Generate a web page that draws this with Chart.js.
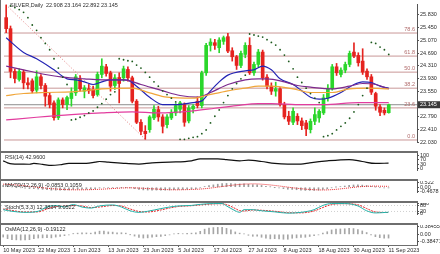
<!DOCTYPE html>
<html>
<head>
<meta charset="utf-8">
<script src="https://cdn.jsdelivr.net/npm/chart.js@4"></script>
<style>
html, body { margin: 0; padding: 0; background: #fff; }
#wrap { position: relative; width: 440px; height: 254px; overflow: hidden; background: #fff; }
#wrap canvas { position: absolute; left: 0; }
.sep { position: absolute; left: 0; width: 418px; background: #6e6e6e; }
</style>
</head>
<body>
<div id="wrap">
  <canvas id="c-main" width="440" height="151" style="top:0"></canvas>
  <canvas id="c-rsi" width="440" height="26" style="top:153px"></canvas>
  <canvas id="c-macd" width="440" height="20" style="top:181px"></canvas>
  <canvas id="c-stoch" width="440" height="20" style="top:203px"></canvas>
  <canvas id="c-osma" width="440" height="29" style="top:225px"></canvas>
  <div class="sep" style="top:151px;height:2px"></div>
  <div class="sep" style="top:179px;height:2px"></div>
  <div class="sep" style="top:201px;height:2px"></div>
  <div class="sep" style="top:223px;height:2px"></div>
  <div class="sep" style="top:245px;height:1px"></div>
  <div class="sep" style="top:0;height:246px;width:1px"></div>
</div>
<script>
// ---- data ----
const titleText = 'SILVER,Daily  22.908 23.164 22.892 23.145';

const dateTickBars = [0, 8, 16, 24, 32, 40, 48, 56, 64, 72, 80, 88];
const dateTickLabels = ['10 May 2023', '22 May 2023', '1 Jun 2023', '13 Jun 2023', '23 Jun 2023', '5 Jul 2023',
  '17 Jul 2023', '27 Jul 2023', '8 Aug 2023', '18 Aug 2023', '30 Aug 2023', '11 Sep 2023'];

const priceTicks = [25.83, 25.45, 25.07, 24.69, 24.31, 23.93, 23.55, 22.79, 22.41, 22.03];
const priceTickLabels = ['25.830', '25.450', '25.070', '24.690', '24.310', '23.930', '23.550', '22.790', '22.410', '22.030'];
const lastPrice = 23.145;
const lastPriceLabel = '23.145';

const ohlcOpen = [25.75,25.42,24.14,23.90,24.12,23.80,23.86,23.58,23.98,23.72,
  23.42,23.20,22.76,23.29,23.15,23.33,23.50,23.90,23.55,23.62,
  23.60,23.45,24.05,24.28,24.10,23.72,23.96,23.95,24.20,23.95,
  23.25,22.62,22.35,22.40,22.75,23.00,22.78,22.55,22.75,22.90,
  23.01,23.15,22.66,23.02,23.25,23.12,24.10,24.92,25.00,24.85,
  25.04,25.18,24.76,24.58,24.32,24.65,24.92,24.10,24.35,24.72,
  23.97,23.70,23.55,23.62,23.15,22.80,22.62,22.80,22.66,22.60,
  22.40,22.65,22.75,22.90,23.35,23.62,24.28,24.05,24.18,24.35,
  24.72,24.62,24.45,24.15,23.98,23.48,23.08,22.98,22.908];
const ohlcHigh = [26.13,25.50,24.22,24.22,24.18,23.95,23.92,24.16,24.05,23.78,
  23.50,23.26,23.35,23.35,23.40,23.65,24.05,24.02,23.72,23.75,
  23.70,24.12,24.52,24.35,24.15,24.05,24.10,24.30,24.28,24.00,
  23.30,22.70,22.52,22.82,23.12,23.10,22.85,22.85,23.00,23.18,
  23.25,23.20,23.12,23.15,23.38,24.15,24.98,25.12,25.10,25.15,
  25.20,25.28,24.85,24.62,24.75,25.00,25.15,24.42,24.80,24.78,
  24.05,23.80,23.82,23.66,23.22,22.95,23.05,22.88,22.75,22.68,
  22.72,23.05,23.00,23.45,23.75,24.35,24.38,24.25,24.42,24.75,
  25.00,24.70,24.82,24.22,24.05,23.52,23.15,23.05,23.164];
const ohlcLow = [25.30,23.95,23.80,23.85,23.62,23.62,23.50,23.50,23.62,23.10,
  23.05,22.68,22.70,23.05,23.00,23.10,23.42,23.55,23.35,23.48,
  23.35,23.40,23.95,24.00,23.55,23.60,23.20,23.85,23.85,23.20,
  22.58,22.25,22.11,22.32,22.70,22.65,22.30,22.45,22.70,22.82,
  22.90,22.50,22.60,22.90,23.05,23.05,24.02,24.75,24.80,24.70,
  24.95,24.70,24.45,24.20,24.25,24.55,24.05,24.02,24.28,23.88,
  23.62,23.45,23.40,23.10,22.72,22.55,22.55,22.55,22.40,22.22,
  22.30,22.55,22.62,22.85,23.25,23.58,24.02,23.98,24.10,24.28,
  24.55,24.30,24.05,23.90,23.45,22.98,22.82,22.84,22.892];
const ohlcClose = [25.42,24.14,23.93,24.14,23.80,23.74,23.56,23.98,23.72,23.40,
  23.15,22.76,23.29,23.15,23.36,23.50,23.98,23.62,23.65,23.56,
  23.42,24.05,24.30,24.08,23.70,23.95,23.78,24.22,23.95,23.25,
  22.62,22.35,22.28,22.78,23.01,22.78,22.50,22.78,22.92,23.12,
  23.20,22.62,23.05,23.10,23.12,24.10,24.92,25.02,24.92,25.08,
  25.15,24.75,24.58,24.32,24.68,24.92,24.10,24.35,24.72,23.95,
  23.70,23.55,23.62,23.15,22.78,22.65,22.95,22.66,22.52,22.42,
  22.65,22.85,22.95,23.35,23.62,24.28,24.10,24.18,24.35,24.68,
  24.60,24.40,24.12,23.98,23.52,23.10,22.92,22.90,23.145];

// parabolic SAR dots (bar 0 has none)
const sarBars = [1,2,3,4,5,6,7,8,9,10,11,12,13,14,15,16,17,18,19,20,21,22,23,24,25,26,27,28,29,30,
  31,32,33,34,35,36,37,38,39,40,41,42,43,44,45,46,47,48,49,50,51,52,53,54,55,56,57,58,59,60,
  61,62,63,64,65,66,67,68,69,70,71,72,73,74,75,76,77,78,79,80,81,82,83,84,85,86,87,88];
const sarVal = [26.10,26.05,25.99,25.91,25.75,25.53,25.37,25.15,24.98,24.79,24.52,24.24,23.97,23.75,
  22.69,22.71,22.77,22.82,22.90,22.96,23.07,23.18,23.31,23.45,23.53,
  24.52,24.49,24.46,24.44,24.33,24.24,24.11,23.97,23.83,23.70,23.56,23.45,23.34,23.23,
  22.11,22.11,22.14,22.17,22.19,22.28,22.39,22.60,22.80,22.99,23.21,23.42,23.62,23.78,23.92,24.03,
  25.26,25.23,25.20,25.17,25.09,25.01,24.93,24.79,24.63,24.44,24.22,23.97,23.81,23.64,23.48,23.34,23.21,
  22.19,22.22,22.28,22.39,22.50,22.60,22.74,22.93,23.15,23.42,23.64,
  25.01,24.98,24.87,24.79,24.65];

// moving averages, sampled along the curves
const blueAt = [0,4,7,11,14,16,18,20,22,24,27,28,30,33,36,39,43,45,47,49,51,55,57,59,61,63,66,68,70,72,74,77,80,82,84,86,88];
const blueVal = [25.15,24.71,24.52,24.19,23.92,23.89,23.83,23.75,23.83,23.89,23.89,23.88,23.70,23.37,23.15,23.15,23.21,23.26,23.56,23.83,
  24.03,24.16,24.19,24.30,24.19,23.92,23.75,23.56,23.37,23.31,23.34,23.51,23.75,23.83,23.81,23.70,23.64];
const purpleAt = [0,4,9,13,18,22,27,31,36,40,44,47,51,55,58,60,64,67,70,75,79,82,85,88];
const purpleVal = [24.30,24.19,24.05,23.97,23.92,23.89,23.89,23.75,23.56,23.42,23.37,23.51,23.75,23.89,23.92,23.92,23.83,23.72,23.67,23.62,
  23.70,23.78,23.75,23.62];
const orangeAt = [0,4,9,15,18,22,29,33,37,43,46,51,55,58,61,66,70,75,79,83,88];
const orangeVal = [23.42,23.48,23.51,23.53,23.56,23.62,23.64,23.50,23.37,23.34,23.42,23.56,23.64,23.70,23.70,23.62,23.51,23.51,23.62,23.64,23.62];
const pinkAt = [0,7,15,22,29,35,43,48,53,58,61,68,73,81,88];
const pinkVal = [22.69,22.77,22.85,22.90,22.93,22.90,22.96,23.04,23.12,23.18,23.18,23.15,23.15,23.21,23.21];

// fibonacci retracement
const fibLevels = ['0.0', '23.6', '38.2', '50.0', '61.8', '78.6'];
const fibPrices = [22.09, 23.05, 23.64, 24.12, 24.60, 25.29];
const fibAnchorBars = [0, 32];
const fibAnchorPrices = [26.13, 22.11];

// RSI(14)
const rsiLabel = 'RSI(14) 42.9600';
const rsiAt = [0,1,2,4,6,7,9,11,13,15,18,21,22,24,28,31,34,38,43,45,49,51,54,56,59,62,65,68,70,74,79,82,85,88];
const rsiVal = [60,45,37,35,34,40,33,25,30,40,40,50,55,50,40,35,45,50,60,75,75,70,60,65,55,40,35,35,45,60,70,55,40,43];
const rsiTicks = [100, 70, 30, 0];
const rsiTickLabels = ['100', '70', '30', '0'];

// MACD(12,26,9)
const macdLabel = 'MACD(12,26,9) -0.0853 0.1059';
const macdMain = [0.22,0.12,0.04,-0.01,-0.07,-0.12,-0.17,-0.18,-0.21,-0.25,
  -0.29,-0.35,-0.35,-0.36,-0.35,-0.33,-0.27,-0.25,-0.24,-0.23,
  -0.23,-0.16,-0.09,-0.06,-0.07,-0.05,-0.05,-0.02,-0.02,-0.08,
  -0.17,-0.26,-0.32,-0.34,-0.34,-0.34,-0.36,-0.35,-0.33,-0.29,
  -0.26,-0.27,-0.24,-0.21,-0.18,-0.07,0.08,0.20,0.28,0.36,
  0.43,0.45,0.44,0.40,0.39,0.40,0.34,0.30,0.29,0.21,
  0.12,0.04,-0.01,-0.08,-0.17,-0.24,-0.26,-0.30,-0.34,-0.38,
  -0.38,-0.37,-0.35,-0.27,-0.19,-0.07,0.01,0.07,0.14,0.22,
  0.27,0.28,0.25,0.20,0.11,0.01,-0.05,-0.09,-0.0853];
const macdSignal = [0.36,0.34,0.31,0.27,0.22,0.16,0.10,0.04,-0.02,-0.07,
  -0.12,-0.17,-0.21,-0.25,-0.28,-0.30,-0.31,-0.31,-0.31,-0.30,
  -0.29,-0.27,-0.25,-0.22,-0.19,-0.16,-0.13,-0.10,-0.08,-0.07,
  -0.08,-0.10,-0.13,-0.16,-0.19,-0.22,-0.25,-0.28,-0.30,-0.31,
  -0.31,-0.30,-0.29,-0.27,-0.25,-0.22,-0.18,-0.12,-0.06,0.01,
  0.08,0.15,0.22,0.28,0.33,0.37,0.39,0.40,0.39,0.36,
  0.32,0.27,0.21,0.15,0.08,0.01,-0.06,-0.12,-0.18,-0.23,
  -0.27,-0.30,-0.32,-0.33,-0.32,-0.29,-0.25,-0.20,-0.14,-0.08,
  -0.02,0.04,0.08,0.11,0.13,0.13,0.12,0.11,0.1059];
const macdTicks = [0.522, 0, -0.4678];
const macdTickLabels = ['0.522', '0.00', '-0.4678'];

// Stochastic(5,3,3)
const stochLabel = 'Stoch(5,3,3) 12.3834 9.0522';
const stochAt = [0,2,5,8,10,12,14,16,18,20,22,25,27,29,31,33,36,38,40,43,45,48,50,51,53,54,55,57,59,62,65,68,71,73,75,78,81,83,85,88];
const stochMain = [38,22,11,22,65,80,65,90,65,54,76,86,65,27,11,22,49,65,76,81,92,100,100,76,27,11,38,38,27,16,3,11,38,81,100,100,76,27,5,12.38];
const stochSignal = [45,30,15,16,45,70,72,80,75,60,65,80,75,45,20,15,35,55,70,78,86,96,98,90,50,28,25,35,32,22,8,6,25,60,90,98,88,50,15,9.05];
const stochTicks = [100, 80, 20, 0];
const stochTickLabels = ['100', '80', '20', '0'];
const stochLevels = [80, 20];

// OsMA(12,26,9)
const osmaLabel = 'OsMA(12,26,9) -0.19122';
const osmaVal = [-0.14,-0.22,-0.27,-0.28,-0.29,-0.28,-0.27,-0.22,-0.19,-0.18,
  -0.17,-0.18,-0.14,-0.11,-0.07,-0.03,0.04,0.06,0.07,0.07,
  0.06,0.11,0.16,0.16,0.12,0.11,0.08,0.08,0.06,-0.01,
  -0.09,-0.16,-0.19,-0.18,-0.15,-0.12,-0.11,-0.07,-0.03,0.02,
  0.05,0.03,0.05,0.06,0.07,0.15,0.26,0.32,0.34,0.35,
  0.35,0.30,0.22,0.12,0.06,0.03,-0.05,-0.10,-0.10,-0.15,
  -0.20,-0.23,-0.22,-0.23,-0.25,-0.25,-0.20,-0.18,-0.16,-0.15,
  -0.11,-0.07,-0.03,0.06,0.13,0.22,0.26,0.27,0.28,0.30,
  0.29,0.24,0.17,0.09,-0.02,-0.12,-0.17,-0.20,-0.19122];
const osmaTicks = [0.38455, 0, -0.38471];
const osmaTickLabels = ['0.38455', '0.00', '-0.38471'];

// ---- styling / helpers ----
const FONT = "'Liberation Sans', Arial, sans-serif";
const TXT = '#2b2b2b';
const X_MIN = -0.5, X_MAX = 94.5;
const UP = '#2bd62b', DOWN = '#e5231f';

function xAxis(show) {
  return {
    type: 'linear', min: X_MIN, max: X_MAX, offset: false, display: show,
    afterBuildTicks: s => { s.ticks = dateTickBars.map(v => ({ value: v })); },
    afterFit: s => { s.height = 9; s.paddingLeft = 0; s.paddingRight = 0; },
    ticks: {
      autoSkip: false, maxRotation: 0, minRotation: 0, align: 'start', padding: 0,
      color: TXT, font: { family: FONT, size: 5.5 },
      callback: v => dateTickLabels[dateTickBars.indexOf(v)] ?? ''
    },
    grid: { offset: false, drawOnChartArea: false, drawTicks: true, tickLength: 2, color: '#555' },
    border: { display: false }
  };
}

function yAxis(min, max, vals, labels) {
  return {
    position: 'right', min, max,
    afterBuildTicks: s => { s.ticks = vals.map(v => ({ value: v })); },
    afterFit: s => { s.width = 23; s.paddingTop = 0; s.paddingBottom = 0; },
    ticks: {
      autoSkip: false, padding: 1, color: TXT, font: { family: FONT, size: 5.5 },
      callback: v => labels[vals.indexOf(v)] ?? ''
    },
    grid: { drawOnChartArea: false, tickLength: 2, color: '#555' },
    border: { color: '#555', width: 1 }
  };
}

function options(scales) {
  return {
    responsive: false, animation: false, events: [],
    layout: { padding: { left: 1, right: 0, top: 0, bottom: 0 } },
    plugins: { legend: { display: false }, tooltip: { enabled: false } },
    scales
  };
}

function curve(at, vals, color, width, extra) {
  return Object.assign({
    type: 'line', data: at.map((x, k) => ({ x, y: vals[k] })),
    borderColor: color, borderWidth: width, pointRadius: 0,
    cubicInterpolationMode: 'monotone', order: 1
  }, extra || {});
}

function hline(y, color, dash, order) {
  return {
    type: 'line', data: [{ x: X_MIN, y }, { x: X_MAX, y }],
    borderColor: color, borderWidth: 1, borderDash: dash || [], pointRadius: 0, order
  };
}

function paneLabel(text) {
  return {
    id: 'paneLabel',
    afterDraw(chart) {
      const c = chart.ctx;
      c.save();
      c.font = `5.5px ${FONT}`;
      c.fillStyle = TXT;
      c.textBaseline = 'middle';
      c.fillText(text, 5, 4);
      c.restore();
    }
  };
}

const candleColor = i => (ohlcClose[i] >= ohlcOpen[i] ? UP : DOWN);

// ---- main price pane ----
const mainText = {
  id: 'mainText',
  afterDraw(chart) {
    const { ctx, chartArea, scales } = chart;
    ctx.save();
    ctx.font = `5.5px ${FONT}`;
    ctx.fillStyle = TXT;
    ctx.textBaseline = 'middle';
    ctx.fillText(titleText, 10, 5);
    ctx.fillStyle = '#b06a6a';
    ctx.textAlign = 'right';
    ctx.textBaseline = 'bottom';
    fibLevels.forEach((lv, k) => ctx.fillText(lv, chartArea.right - 2, scales.y.getPixelForValue(fibPrices[k]) - 0.5));
    const py = scales.y.getPixelForValue(lastPrice);
    ctx.fillStyle = '#3a3a3a';
    ctx.fillRect(chartArea.right + 1, py - 3.5, 22, 7);
    ctx.fillStyle = '#fff';
    ctx.textAlign = 'left';
    ctx.textBaseline = 'middle';
    ctx.fillText(lastPriceLabel, chartArea.right + 3, py);
    ctx.restore();
  }
};

new Chart(document.getElementById('c-main'), {
  type: 'bar',
  data: {
    datasets: [
      ...fibPrices.map(p => hline(p, '#c99797', [], 10)),
      hline(lastPrice, '#8d8d8d', [], 9),
      {
        type: 'line', data: fibAnchorBars.map((x, k) => ({ x, y: fibAnchorPrices[k] })),
        borderColor: '#e07a7a', borderWidth: 1, borderDash: [1, 2], pointRadius: 0, order: 9
      },
      {
        type: 'bar', data: ohlcLow.map((l, i) => ({ x: i, y: [l, ohlcHigh[i]] })),
        barThickness: 1, grouped: false, backgroundColor: ctx => candleColor(ctx.dataIndex), order: 4
      },
      {
        type: 'bar', data: ohlcOpen.map((o, i) => ({ x: i, y: [o, ohlcClose[i]] })),
        barThickness: 3, minBarLength: 1, grouped: false, backgroundColor: ctx => candleColor(ctx.dataIndex), order: 3
      },
      curve(pinkAt, pinkVal, '#e23c9e', 1.2),
      curve(orangeAt, orangeVal, '#f0a63a', 1.2),
      curve(purpleAt, purpleVal, '#7c2a8e', 1.2),
      curve(blueAt, blueVal, '#2424b4', 1.2),
      {
        type: 'scatter', data: sarBars.map((x, k) => ({ x, y: sarVal[k] })),
        pointRadius: 0.9, pointBackgroundColor: '#1d5a1d', pointBorderWidth: 0, order: 0
      }
    ]
  },
  options: options({ x: xAxis(false), y: yAxis(22.03, 26.158, priceTicks, priceTickLabels) }),
  plugins: [mainText]
});

// ---- RSI pane ----
new Chart(document.getElementById('c-rsi'), {
  type: 'line',
  data: {
    datasets: [
      curve(rsiAt, rsiVal, '#111', 1.2)
    ]
  },
  options: options({ x: xAxis(false), y: yAxis(-10, 120, rsiTicks, rsiTickLabels) }),
  plugins: [paneLabel(rsiLabel)]
});

// ---- MACD pane ----
new Chart(document.getElementById('c-macd'), {
  type: 'bar',
  data: {
    datasets: [
      {
        type: 'bar', data: macdMain.map((v, i) => ({ x: i, y: v })),
        barThickness: 1, backgroundColor: '#9c9c9c', order: 2
      },
      {
        type: 'line', data: macdSignal.map((v, i) => ({ x: i, y: v })),
        borderColor: '#e8262a', borderWidth: 1, borderDash: [1, 1], pointRadius: 0, order: 1
      }
    ]
  },
  options: options({ x: xAxis(false), y: yAxis(-0.569, 0.739, macdTicks, macdTickLabels) }),
  plugins: [paneLabel(macdLabel)]
});

// ---- Stochastic pane ----
new Chart(document.getElementById('c-stoch'), {
  type: 'line',
  data: {
    datasets: [
      ...stochLevels.map(v => hline(v, '#cfcfcf', [1, 2], 5)),
      curve(stochAt, stochMain, '#22b2a8', 1),
      curve(stochAt, stochSignal, '#e8262a', 1, { borderDash: [2, 1] })
    ]
  },
  options: options({ x: xAxis(false), y: yAxis(-5.6, 105.6, stochTicks, stochTickLabels) }),
  plugins: [paneLabel(stochLabel)]
});

// ---- OsMA pane (carries the date axis) ----
new Chart(document.getElementById('c-osma'), {
  type: 'bar',
  data: {
    datasets: [
      {
        type: 'bar', data: osmaVal.map((v, i) => ({ x: i, y: v })),
        barThickness: 1, backgroundColor: '#a6a6a6'
      }
    ]
  },
  options: options({ x: xAxis(true), y: yAxis(-0.54, 0.47, osmaTicks, osmaTickLabels) }),
  plugins: [paneLabel(osmaLabel)]
});
</script>
</body>
</html>
